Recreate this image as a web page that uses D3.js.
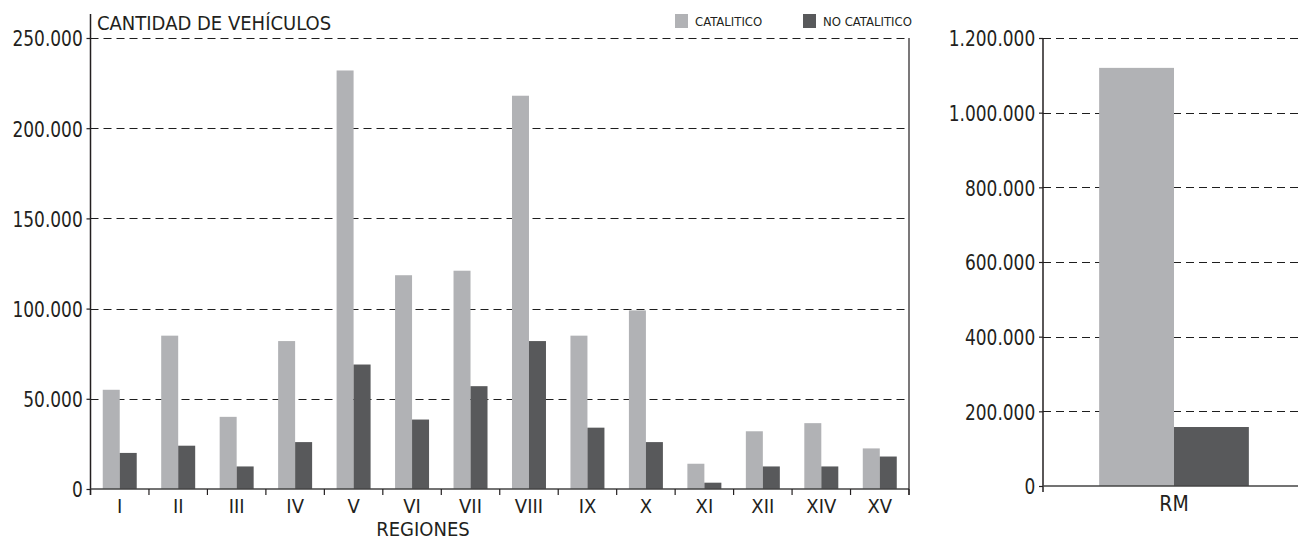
<!DOCTYPE html>
<html>
<head>
<meta charset="utf-8">
<script src="https://cdn.jsdelivr.net/npm/d3@7"></script>
<style>
  body { margin: 0; background: #fff; }
  svg text { font-family: "Liberation Sans Narrow", "DejaVu Sans Condensed", "Arial Narrow", sans-serif; fill: #231f20; }
</style>
</head>
<body>
<div id="chart"></div>
<script>
// Data
const regions = ["I", "II", "III", "IV", "V", "VI", "VII", "VIII", "IX", "X", "XI", "XII", "XIV", "XV"]
const catalitico = [55000, 85000, 40000, 82000, 232000, 118500, 121000, 218000, 85000, 99000, 14000, 32000, 36500, 22500]
const noCatalitico = [20000, 24000, 12500, 26000, 69000, 38500, 57000, 82000, 34000, 26000, 3500, 12500, 12500, 18000]
const seriesNames = ["CATALITICO", "NO CATALITICO"]
const leftTicks = [0, 50000, 100000, 150000, 200000, 250000]

const rmRegions = ["RM"]
const rmCatalitico = [1120000]
const rmNoCatalitico = [158000]
const rightTicks = [0, 200000, 400000, 600000, 800000, 1000000, 1200000]

const width = 1298
const height = 542

// Color scheme
const colors = {"CATALITICO": "#b1b2b5", "NO CATALITICO": "#58595b"}
const inkColor = "#231f20"

// thousands with dots
const locale = d3.formatLocale({decimal: ",", thousands: ".", grouping: [3], currency: ["$", ""]})
const fmt = locale.format(",d")

var svg = d3.create("svg")
  .attr("width", width)
  .attr("height", height)
  .attr("viewBox", [0, 0, width, height])

// build rows for the grouped bars
function makeRows(cats, a, b) {
  return cats.map((c, i) => ({region: c, values: [
    {key: seriesNames[0], value: a[i]},
    {key: seriesNames[1], value: b[i]}
  ]}))
}

function drawPanel(opts) {
  const g = svg.append("g")

  const x = d3.scaleBand()
    .domain(opts.cats)
    .range([opts.left, opts.right])
    .padding(0)

  const xs = d3.scaleBand()
    .domain(seriesNames)
    .range([0, x.bandwidth()])
    .paddingInner(0)
    .paddingOuter(opts.outer)

  const y = d3.scaleLinear()
    .domain([0, opts.max])
    .range([opts.bottom, opts.top])

  // dashed grid lines
  g.append("g")
    .selectAll("line")
    .data(opts.ticks.filter(d => d > 0))
    .join("line")
      .attr("x1", opts.left)
      .attr("x2", opts.gridRight)
      .attr("y1", d => Math.round(y(d)) + 0.5)
      .attr("y2", d => Math.round(y(d)) + 0.5)
      .attr("stroke", "#1e1e1e")
      .attr("stroke-width", 1.2)
      .attr("stroke-dasharray", "8,5")

  // bars
  g.append("g")
    .selectAll("g")
    .data(opts.rows)
    .join("g")
      .attr("transform", d => `translate(${x(d.region)},0)`)
    .selectAll("rect")
    .data(d => d.values)
    .join("rect")
      .attr("x", d => xs(d.key))
      .attr("y", d => y(d.value))
      .attr("width", xs.bandwidth())
      .attr("height", d => y(0) - y(d.value))
      .attr("fill", d => colors[d.key])

  // y axis
  const yAxis = g.append("g")
    .attr("transform", `translate(${opts.left},0)`)
    .call(d3.axisLeft(y).tickValues(opts.ticks).tickFormat(fmt).tickSize(4).tickPadding(5))
  yAxis.select(".domain").remove()
  yAxis.selectAll(".tick line").attr("stroke", inkColor).attr("stroke-width", 1.2)
  yAxis.selectAll(".tick text")
    .style("font-size", "22px")
    .attr("dy", "0.36em")
    .attr("transform", "scale(0.86,1)")

  g.append("line")
    .attr("x1", opts.left).attr("x2", opts.left)
    .attr("y1", opts.axisTop).attr("y2", opts.bottom + 6)
    .attr("stroke", inkColor).attr("stroke-width", 1.5)

  // x axis
  const xAxis = g.append("g")
    .attr("transform", `translate(0,${opts.bottom})`)
    .call(d3.axisBottom(x).tickSize(0).tickPadding(10))
  xAxis.select(".domain").remove()
  xAxis.selectAll(".tick text").style("font-size", opts.xFont).attr("dy", "0.71em")

  g.append("line")
    .attr("x1", opts.left).attr("x2", opts.gridRight)
    .attr("y1", opts.bottom).attr("y2", opts.bottom)
    .attr("stroke", "#444").attr("stroke-width", 1.5)

  if (opts.boundaryTicks) {
    g.append("g")
      .selectAll("line")
      .data(opts.cats.map(c => x(c)).concat([opts.right]))
      .join("line")
        .attr("x1", d => d).attr("x2", d => d)
        .attr("y1", opts.bottom).attr("y2", opts.bottom + 6)
        .attr("stroke", inkColor).attr("stroke-width", 1.2)
    // right border
    g.append("line")
      .attr("x1", opts.right).attr("x2", opts.right)
      .attr("y1", opts.top).attr("y2", opts.bottom + 6)
      .attr("stroke", inkColor).attr("stroke-width", 1.2)
  }
  return g
}

// left panel: regions
drawPanel({
  cats: regions,
  rows: makeRows(regions, catalitico, noCatalitico),
  left: 90.5, right: 909, gridRight: 909,
  top: 38, bottom: 489, axisTop: 14,
  max: 250000, ticks: leftTicks, outer: 0.72,
  xFont: "20px", boundaryTicks: true
})

// right panel: RM
drawPanel({
  cats: rmRegions,
  rows: makeRows(rmRegions, rmCatalitico, rmNoCatalitico),
  left: 1043, right: 1305, gridRight: 1298,
  top: 38, bottom: 486, axisTop: 38,
  max: 1200000, ticks: rightTicks, outer: 0.75,
  xFont: "21px", boundaryTicks: false
})

// title
svg.append("text")
  .attr("x", 97)
  .attr("y", 30)
  .style("font-size", "20px")
  .text("CANTIDAD DE VEHÍCULOS")

// x axis title
svg.append("text")
  .attr("x", 423)
  .attr("y", 536)
  .attr("text-anchor", "middle")
  .style("font-size", "20px")
  .text("REGIONES")

// legend
const legendX = [675, 803]
const legend = svg.append("g")
  .selectAll("g")
  .data(seriesNames)
  .join("g")
    .attr("transform", (d, i) => `translate(${legendX[i]},14)`)
legend.append("rect")
  .attr("width", 13)
  .attr("height", 14)
  .attr("fill", d => colors[d])
legend.append("text")
  .attr("x", 20)
  .attr("y", 12)
  .style("font-size", "13px")
  .text(d => d)

document.getElementById("chart").append(svg.node())
</script>
</body>
</html>
